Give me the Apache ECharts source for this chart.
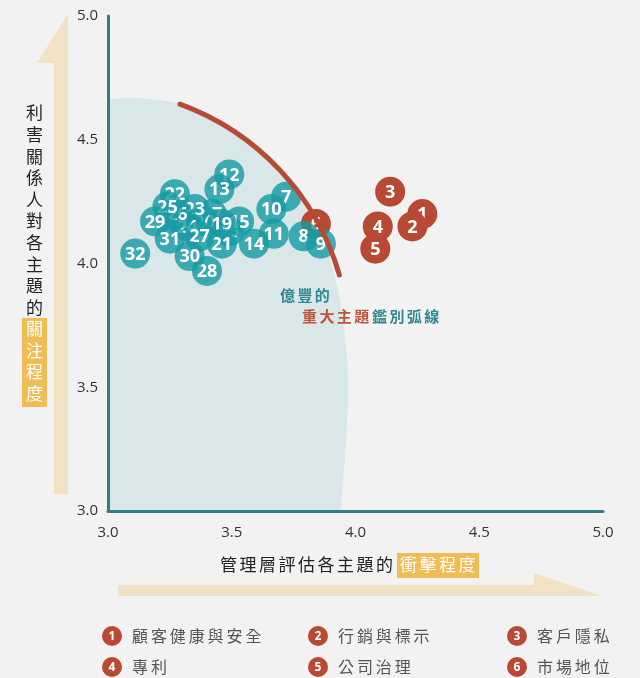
<!DOCTYPE html>
<html>
<head>
<meta charset="utf-8">
<script src="https://cdn.jsdelivr.net/npm/echarts@6/dist/echarts.min.js"></script>
<style>
  html, body { margin: 0; padding: 0; background: #f2f2f2; }
  #main { width: 640px; height: 678px; }
</style>
</head>
<body>
<div id="main"></div>
<script>
// 重大主題 (red) : x = 衝擊程度, y = 關注程度
var redIds = [1, 2, 3, 4, 5, 6];
var redX = [4.27, 4.23, 4.14, 4.09, 4.08, 3.84];
var redY = [4.20, 4.15, 4.29, 4.15, 4.06, 4.16];

// 其他主題 (teal), listed in drawing order (the buried ones first)
var tealIds = [16, 17, 18, 20, 23, 24, 26,
               7, 8, 9, 10, 11, 12, 13, 14, 15, 19, 21, 22, 25, 27, 28, 29, 30, 31, 32];
var tealX = [3.49, 3.42, 3.30, 3.39, 3.35, 3.32, 3.28,
             3.72, 3.79, 3.86, 3.66, 3.67, 3.49, 3.45, 3.59, 3.53, 3.46, 3.46, 3.27, 3.24, 3.37, 3.40, 3.19, 3.33, 3.25, 3.11];
var tealY = [4.13, 4.20, 4.17, 4.17, 4.22, 4.15, 4.20,
             4.27, 4.11, 4.08, 4.22, 4.12, 4.36, 4.30, 4.08, 4.17, 4.16, 4.08, 4.28, 4.23, 4.11, 3.97, 4.17, 4.03, 4.10, 4.04];

var axisTicks = [3.0, 3.5, 4.0, 4.5, 5.0];

// 鑑別弧線 (circle in data units) and the shaded zone behind the cluster
var arcCenter = [2.935, 3.667];
var arcRadius = 1.04;
var arcAngles = [-70, -16];
var shadeX = [2.95, 2.95, 3.02, 3.10, 3.29, 3.49, 3.66, 3.80, 3.90, 3.95, 3.97, 3.96, 3.94, 3.94];
var shadeY = [2.95, 4.655, 4.665, 4.67, 4.645, 4.56, 4.43, 4.24, 4.01, 3.77, 3.53, 3.25, 3.00, 2.95];

var legendIds = [1, 2, 3, 4, 5, 6];
var legendNames = ['顧客健康與安全', '行銷與標示', '客戶隱私', '專利', '公司治理', '市場地位'];

var RED = '#b84a35';
var TEAL = 'rgba(23,155,165,0.82)';
var CJK = '"Noto Sans CJK TC", "Noto Sans", sans-serif';

var chart = echarts.init(document.getElementById('main'));

function spaced(str, x, y, step, style, vertical) {
  return str.split('').map(function (ch, i) {
    return {
      type: 'text',
      x: vertical ? x : x + i * step,
      y: vertical ? y + i * step : y,
      z: 10,
      style: Object.assign({
        text: ch,
        align: vertical ? 'center' : 'left',
        verticalAlign: 'middle',
        fontFamily: CJK
      }, style)
    };
  });
}

function pointRenderer(color) {
  return function (params, api) {
    var p = api.coord([api.value(0), api.value(1)]);
    return {
      type: 'group',
      children: [
        { type: 'circle', shape: { cx: p[0], cy: p[1], r: 15 }, style: { fill: color } },
        {
          type: 'text', x: p[0], y: p[1] + 1,
          style: {
            text: String(api.value(2)), fill: '#fff', align: 'center', verticalAlign: 'middle',
            fontSize: 18, fontWeight: 'bold', fontFamily: '"Open Sans", sans-serif'
          }
        }
      ]
    };
  };
}

var redData = redIds.map(function (id, i) { return [redX[i], redY[i], id]; });
var tealData = tealIds.map(function (id, i) { return [tealX[i], tealY[i], id]; });

// decorations: arrows, titles, annotation, legend
var graphics = [
  { type: 'polygon', shape: { points: [[68, 14], [37, 63], [54, 63], [54, 494], [68, 494]] }, style: { fill: '#f2e2c4' } },
  { type: 'polygon', shape: { points: [[118, 585], [534, 585], [534, 573], [602, 596], [118, 596]] }, style: { fill: '#f2e2c4' } },
  { type: 'rect', shape: { x: 22, y: 318, width: 25, height: 89 }, style: { fill: '#f0bd55' } },
  { type: 'rect', shape: { x: 397, y: 553, width: 82, height: 25 }, style: { fill: '#f0bd55' } }
];
graphics = graphics
  .concat(spaced('利害關係人對各主題的', 34.5, 113, 21.6, { fill: '#222', fontSize: 17 }, true))
  .concat(spaced('關注程度', 34.5, 328.6, 21.6, { fill: '#fff', fontSize: 17 }, true))
  .concat(spaced('管理層評估各主題的', 220, 565, 19.5, { fill: '#222', fontSize: 17 }))
  .concat(spaced('衝擊程度', 400, 565, 19.5, { fill: '#fff', fontSize: 17 }))
  .concat(spaced('億豐的', 280, 295, 17.4, { fill: '#2f8790', fontSize: 15, fontWeight: 'bold' }))
  .concat(spaced('重大主題', 302, 316, 17.4, { fill: '#c0533c', fontSize: 15, fontWeight: 'bold' }))
  .concat(spaced('鑑別弧線', 372, 316, 17.4, { fill: '#2f8790', fontSize: 15, fontWeight: 'bold' }));

var legendCols = [112, 318, 517];
var legendRows = [636, 667];
legendIds.forEach(function (id, i) {
  var cx = legendCols[i % 3], cy = legendRows[Math.floor(i / 3)];
  graphics.push({ type: 'circle', shape: { cx: cx, cy: cy, r: 10 }, style: { fill: RED } });
  graphics.push({
    type: 'text', x: cx, y: cy + 0.5, z: 10,
    style: { text: String(id), fill: '#fff', align: 'center', verticalAlign: 'middle',
             fontSize: 12, fontWeight: 'bold', fontFamily: '"Open Sans", sans-serif' }
  });
  graphics = graphics.concat(spaced(legendNames[i], cx + 20, cy, 18.9, { fill: '#555', fontSize: 16 }));
});

var axisCommon = {
  type: 'value',
  min: 3,
  max: 5,
  interval: 0.5,
  z: 5,
  axisLine: { show: true, lineStyle: { color: '#2d8088', width: 3 } },
  axisTick: { show: false },
  splitLine: { show: false },
  axisLabel: {
    color: '#333', fontSize: 15, fontFamily: '"Open Sans", sans-serif',
    formatter: function (v) { return axisTicks.indexOf(v) >= 0 ? v.toFixed(1) : ''; }
  }
};

var option = {
  backgroundColor: '#f2f2f2',
  animation: false,
  grid: { left: 108, top: 16, width: 495, height: 495 },
  xAxis: Object.assign({}, axisCommon, { axisLabel: Object.assign({}, axisCommon.axisLabel, { margin: 14 }) }),
  yAxis: Object.assign({}, axisCommon, { axisLabel: Object.assign({}, axisCommon.axisLabel, { margin: 10 }) }),
  graphic: graphics,
  series: [
    {
      type: 'custom',
      clip: true,
      silent: true,
      data: [[3, 3]],
      renderItem: function (params, api) {
        var pts = shadeX.map(function (x, i) { return api.coord([x, shadeY[i]]); });
        return { type: 'polygon', shape: { points: pts, smooth: 0.3 }, style: { fill: '#d9e7e8' } };
      }
    },
    { type: 'custom', data: redData, renderItem: pointRenderer(RED) },
    { type: 'custom', data: tealData, renderItem: pointRenderer(TEAL) },
    {
      type: 'custom',
      silent: true,
      data: [arcCenter],
      renderItem: function (params, api) {
        var c = api.coord(arcCenter);
        var r = api.size([arcRadius, arcRadius])[0];
        return {
          type: 'arc',
          shape: { cx: c[0], cy: c[1], r: r,
                   startAngle: arcAngles[0] * Math.PI / 180,
                   endAngle: arcAngles[1] * Math.PI / 180, clockwise: true },
          style: { stroke: RED, lineWidth: 5, fill: null, lineCap: 'round' }
        };
      }
    }
  ]
};

chart.setOption(option);
</script>
</body>
</html>
